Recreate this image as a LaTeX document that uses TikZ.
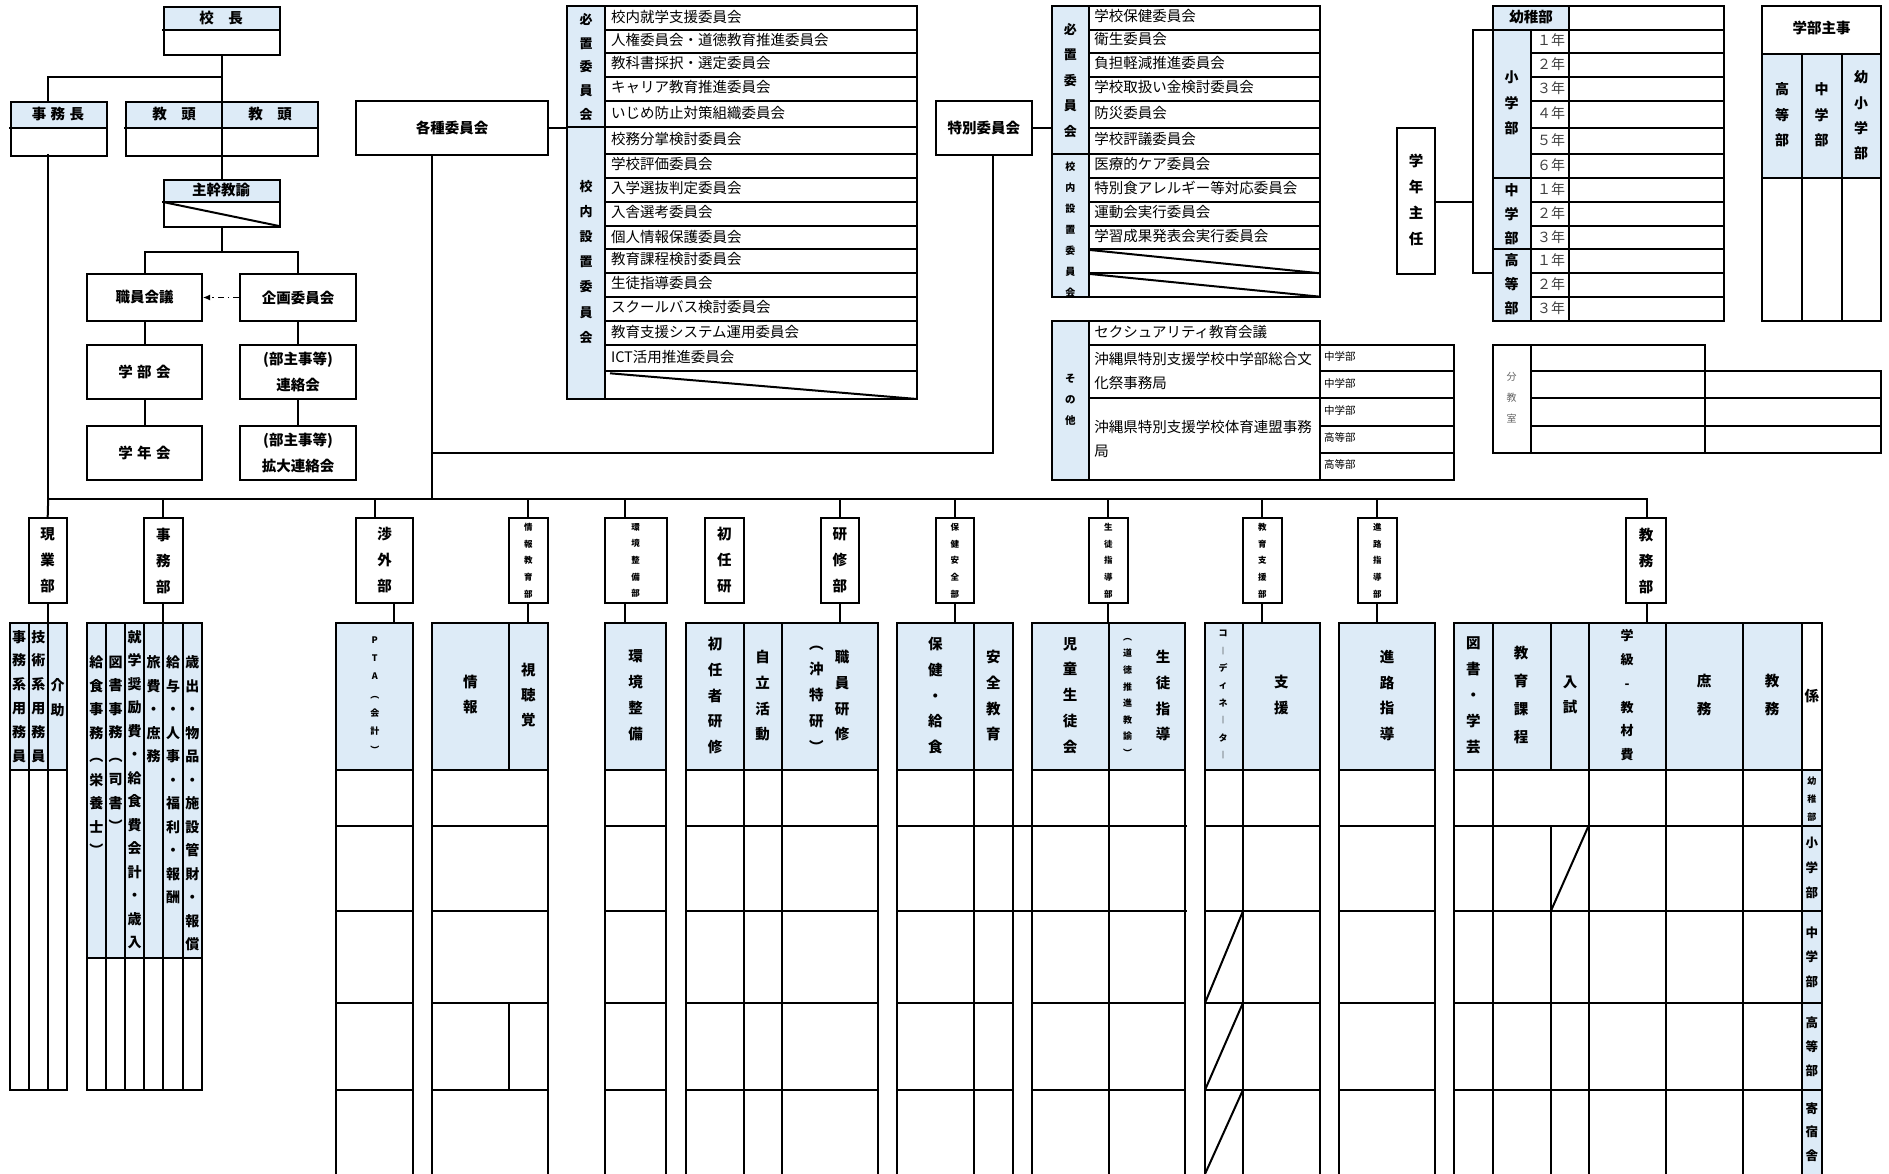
\documentclass[tikz,border=0pt]{standalone}
\usepackage{fontspec}
\setmainfont{Noto Sans CJK JP}
\usetikzlibrary{arrows.meta}
\definecolor{hb}{RGB}{221,235,247}
\newcommand\VP{\vphantom{国}}
\newcommand\obox[6][]{\node[draw, anchor=north west, minimum width={(#4-#2)*1pt}, minimum height={(#5-#3)*1pt}, #1] (#6) at (#2,#3) {};}
\newcommand\trows[2]{\foreach \yy in {623.4,769.6,825.5,911.4,1003,1090} \draw (#1,\yy)--(#2,\yy);}
\begin{document}
\begin{tikzpicture}[x=1pt,y=-1pt,line width=2pt,line cap=rect,
  every node/.style={inner sep=0pt},
  vt/.style n args={2}{font=\bfseries\fontsize{#1}{#2}\selectfont, align=center, anchor=north},
  vtr/.style n args={2}{font=\fontsize{#1}{#2}\selectfont, align=center, anchor=north},
  bt/.style={font=\bfseries\fontsize{14.5}{17}\selectfont},
  ob/.style={draw, font=\bfseries\fontsize{14.5}{25.5}\selectfont, align=center},
  ct/.style={font=\fontsize{14.5}{17}\selectfont, anchor=west},
  st/.style={font=\fontsize{10.5}{12}\selectfont, anchor=west},
  yr/.style={font=\fontsize{14}{17}\selectfont, text=black!75},
  dbox/.style={draw, minimum width=#1pt, minimum height=85.3pt, align=center},
  dbig/.style={font=\bfseries\fontsize{14.5}{26}\selectfont},
  dsmall/.style={font=\bfseries\fontsize{8.5}{16.7}\selectfont},
  dda/.style={line width=1.1pt, line cap=butt, dash pattern=on 6pt off 4pt on 1.5pt off 4pt, -{Latex[length=7pt,width=6pt]}},
  dg/.style={line cap=butt}]
\useasboundingbox (0,0) rectangle (1889,1174);

% ===== top-left organisation =====
\fill[hb] (163,6) rectangle (279,30);
\obox{163}{6}{279}{54}{kocho}
\draw (163,30) -- (279,30);
\node[bt] (kochoT) at (221,18) {校　長};

\fill[hb] (9.6,101) rectangle (106,128);
\obox{9.6}{101}{106}{155}{jimucho}
\draw (9.6,128)--(106,128);
\node[bt] (jimuchoT) at (58,114) {事\hspace{4.5pt}務\hspace{4.5pt}長};

\fill[hb] (124.6,101) rectangle (316.8,128);
\obox{124.6}{101}{221}{155}{kyotoA}
\obox{221}{101}{316.8}{155}{kyotoB}
\draw (124.6,128)--(316.8,128);
\node[bt] (kyotoAT) at (174,114) {教　頭};
\node[bt] (kyotoBT) at (270,114) {教　頭};

\fill[hb] (163,179) rectangle (279,202);
\obox{163}{179}{279}{226}{shukan}
\draw (163,202)--(279,202);
\draw[dg] (163,202)--(279,226);
\node[bt] (shukanT) at (221,189.5) {主幹教諭};

\node[ob, minimum width=115pt, minimum height=47pt] (shokuin) at (144.5,297.5) {職員会議};
\node[ob, minimum width=116pt, minimum height=47pt] (kikaku) at (298,297.5) {企画委員会};
\node[ob, minimum width=115pt, minimum height=54pt] (gakubu) at (144.5,372) {学\hspace{4.5pt}部\hspace{4.5pt}会};
\node[ob, minimum width=116pt, minimum height=54pt] (renraku) at (298,372) {(部主事等)\\連絡会};
\node[ob, minimum width=115pt, minimum height=54pt] (gakunen) at (144.5,453) {学\hspace{4.5pt}年\hspace{4.5pt}会};
\node[ob, minimum width=116pt, minimum height=54pt] (kakudai) at (298,453) {(部主事等)\\拡大連絡会};

\coordinate (brA) at (221,77);
\coordinate (jimTop) at (48.2,101);
\draw (kocho.south) -- (shukan.north);
\draw (brA) -| (jimTop);
\draw (shukan.south) -- ++(0,24) coordinate (brB);
\draw (shokuin.north) |- (brB) -| (kikaku.north);
\draw[dda] (kikaku.west) -- (shokuin.east);
\draw (shokuin.south) -- (gakubu.north);
\draw (gakubu.south) -- (gakunen.north);
\draw (kikaku.south) -- (renraku.north);
\draw (renraku.south) -- (kakudai.north);

% trunk
\coordinate (jimBot) at (48.2,155);
\coordinate (trunkL) at (48.2,498.5);
\coordinate (trunkR) at (1646.7,498.5);
\coordinate (hl) at (0,498.5);
\coordinate (tl) at (0,623.4);
\draw (jimBot) -- (trunkL) -- (trunkR);

% committees
\node[ob, minimum width=192pt, minimum height=54pt] (kakushu) at (452,128) {各種委員会};
\coordinate (kakBot) at (432,155);
\draw (kakBot) -- (kakBot |- hl);
\coordinate (comA) at (567.3,128);
\draw (kakushu.east) -- (comA);

\node[ob, minimum width=96.3pt, minimum height=54pt] (tokubetsu) at (983.85,127.7) {特別委員会};
\coordinate (comB) at (1051.7,127.7);
\draw (tokubetsu.east) -- (comB);
\coordinate (tokBot) at (992.7,154.7);
\coordinate (tokJoin) at (992.7,452.7);
\draw (tokBot) -- (tokJoin) -- (kakBot |- tokJoin);

% 学年主任
\node[ob, minimum width=37.7pt, minimum height=146.3pt] (shunin) at (1416.15,200.85) {};
\node[vt={14.5}{25.7}] (shuninT) at (1416.15,153.5) {\VP 学\\年\\主\\任};
\coordinate (brC) at (1473.3,201.7);
\draw (shunin.east |- brC) -- (brC);
\draw (1492.7,29.7) -- (1473.3,29.7) -- (1473.3,273.3) -- (1492.7,273.3);

% ===== committee table 1 =====
\fill[hb] (567.3,5.7) rectangle (605,399);
\foreach \y/\txt [count=\i] in {17.3/校内就学支援委員会, 40/人権委員会・道徳教育推進委員会, 63.3/教科書採択・選定委員会, 87.3/キャリア教育推進委員会, 113.3/いじめ防止対策組織委員会, 139.3/校務分掌検討委員会, 164/学校評価委員会, 188.3/入学選抜判定委員会, 211.7/入舎選考委員会, 236.7/個人情報保護委員会, 259.3/教育課程検討委員会, 283.3/生徒指導委員会, 306.7/スクールバス検討委員会, 331.7/教育支援システム運用委員会, 356.7/ICT活用推進委員会}
  \node[ct] (ca\i) at (610,\y) {\txt};
\node[vt={13}{23.7}] (cla) at (586.2,12.3) {\VP 必\\置\\委\\員\\会};
\node[vt={13}{25.2}] (clb) at (586.2,179) {\VP 校\\内\\設\\置\\委\\員\\会};
\draw (567.3,5.7) rectangle (916.7,399);
\draw (605,5.7) -- (605,399);
\foreach \y in {29.7,53.3,76.7,100.7,154,178.3,201.7,225.7,249,273.3,296.7,320.7,345,371} \draw (605,\y) -- (916.7,\y);
\draw (567.3,126.7) -- (916.7,126.7);
\draw[dg] (610,373.3) -- (916.7,399);

% ===== committee table 2 =====
\fill[hb] (1051.7,5.7) rectangle (1089,296.7);
\foreach \y/\txt [count=\i] in {16/学校保健委員会, 39.3/衛生委員会, 63.3/負担軽減推進委員会, 87.3/学校取扱い金検討委員会, 113.3/防災委員会, 139.3/学校評議委員会, 164/医療的ケア委員会, 188.3/特別食アレルギー等対応委員会, 211.7/運動会実行委員会, 236/学習成果発表会実行委員会}
  \node[ct] (cb\i) at (1093.3,\y) {\txt};
\node[vt={13}{25.4}] (clc) at (1070.3,22.3) {\VP 必\\置\\委\\員\\会};
\begin{scope}
\clip (1051.7,154.3) rectangle (1089,296.7);
\node[vt={10}{21.1}] (cld) at (1070.3,160.5) {\VP 校\\内\\設\\置\\委\\員\\会};
\end{scope}
\draw (1051.7,5.7) rectangle (1320,296.7);
\draw (1089,5.7)--(1089,296.7);
\foreach \y in {29.7,53.3,76.7,100.7,127.7,178.3,201.7,225.7,249.3,273.3} \draw (1089,\y)--(1320,\y);
\draw (1051.7,154.3)--(1320,154.3);
\draw[dg] (1090,250)--(1320,273.3);
\draw[dg] (1090,274)--(1320,296.7);

% ===== その他 =====
\fill[hb] (1051.7,321) rectangle (1089,480);
\node[vt={10.5}{20.8}] (cle) at (1070.3,373) {\VP そ\\の\\他};
\node[ct] (cc1) at (1093.3,331.7) {セクシュアリティ教育会議};
\node[ct, align=left, font=\fontsize{14.5}{23.4}\selectfont] (cc2) at (1093.3,371) {沖縄県特別支援学校中学部総合文\\化祭事務局};
\node[ct, align=left, font=\fontsize{14.5}{24}\selectfont] (cc3) at (1093.3,438.7) {沖縄県特別支援学校体育連盟事務\\局};
\foreach \y/\txt [count=\i] in {356.7/中学部, 383.3/中学部, 410.7/中学部, 437.3/高等部, 464/高等部}
  \node[st] (cs\i) at (1323,\y) {\txt};
\draw (1051.7,321) -- (1320,321) -- (1320,345);
\draw (1051.7,321) -- (1051.7,480) -- (1454.3,480) -- (1454.3,345) -- (1089,345);
\draw (1089,321)--(1089,480);
\draw (1320,345)--(1320,480);
\draw (1089,398.3)--(1454.3,398.3);
\foreach \y in {371,425.7,452.7} \draw (1320,\y)--(1454.3,\y);

% ===== 学年 table =====
\fill[hb] (1492.7,5.7) rectangle (1569.3,29.7);
\fill[hb] (1492.7,29.7) rectangle (1530.7,321);
\draw (1492.7,5.7) rectangle (1724,321);
\draw (1530.7,29.7)--(1530.7,321) (1569.3,5.7)--(1569.3,321);
\foreach \y in {29.7,178.3,249.3} \draw (1492.7,\y)--(1724,\y);
\foreach \y in {53.3,76.7,100.7,127.7,154.3,201.7,225.7,273.3,296.7} \draw (1530.7,\y)--(1724,\y);
\node[bt] (yochi) at (1531,17) {幼稚部};
\foreach \y/\txt [count=\i] in {40.3/１年, 64.3/２年, 88.3/３年, 113.3/４年, 140.3/５年, 165.3/６年, 189.3/１年, 213.3/２年, 237/３年, 260.3/１年, 284.3/２年, 308.3/３年}
  \node[yr] (yr\i) at (1551,\y) {\txt};
\node[vt={14}{25.3}] (gsho) at (1511.7,70.2) {\VP 小\\学\\部};
\node[vt={14}{23.8}] (gchu) at (1511.7,182.7) {\VP 中\\学\\部};
\node[vt={14}{24}] (gko) at (1511.7,253) {\VP 高\\等\\部};

% ===== 学部主事 =====
\fill[hb] (1762.3,54) rectangle (1880.7,178.3);
\draw (1762.3,5.7) rectangle (1880.7,321);
\draw (1762.3,54)--(1880.7,54) (1762.3,178.3)--(1880.7,178.3);
\draw (1801.7,54)--(1801.7,321) (1841.7,54)--(1841.7,321);
\node[bt] (shuji) at (1821.5,28.3) {学部主事};
\node[vt={14}{25.5}] (sj1) at (1782,82) {\VP 高\\等\\部};
\node[vt={14}{25.5}] (sj2) at (1821.7,82) {\VP 中\\学\\部};
\node[vt={14}{25.4}] (sj3) at (1861.2,69.7) {\VP 幼\\小\\学\\部};

% ===== 分教室 =====
\draw (1492.7,345) rectangle (1705,452.7);
\draw (1705,371) -- (1880.7,371) -- (1880.7,452.7) -- (1705,452.7);
\draw (1530.7,345)--(1530.7,452.7);
\foreach \y in {371,398.3,425.7} \draw (1530.7,\y)--(1880.7,\y);
\node[vtr={10}{20.7}, text=black!62] (bunkyo) at (1511.7,371.5) {\VP 分\\教\\室};

% ===== department boxes =====
\node[dbox=38.2, dbig] (genkyo) at (47.7,560.5) {現\\業\\部};
\node[dbox=39.4, dbig] (jimubu) at (163.3,560.5) {事\\務\\部};
\node[dbox=57, dbig] (shogai) at (384.5,560.5) {渉\\外\\部};
\node[dbox=39.4, dsmall] (joho) at (528.3,560.5) {情\\報\\教\\育\\部};
\node[dbox=62.2, dsmall] (kankyo) at (635.7,560.5) {環\\境\\整\\備\\部};
\node[dbox=39.7, dbig] (shonin) at (724.45,560.5) {初\\任\\研};
\node[dbox=38.3, dbig] (kenshu) at (839.85,560.5) {研\\修\\部};
\node[dbox=38.3, dsmall] (hoken) at (954.85,560.5) {保\\健\\安\\全\\部};
\node[dbox=39.3, dsmall] (seito) at (1108.25,560.5) {生\\徒\\指\\導\\部};
\node[dbox=39.1, dsmall] (shien) at (1262.45,560.5) {教\\育\\支\\援\\部};
\node[dbox=38.9, dsmall] (shinro) at (1377.35,560.5) {進\\路\\指\\導\\部};
\node[dbox=40, dbig] (kyomu) at (1646,560.5) {教\\務\\部};

\draw (trunkL) -- (genkyo.north);
\draw (jimubu.north |- hl) -- (jimubu.north);
\draw (375,498.5) -- (375,517.8);
\draw (joho.north |- hl) -- (joho.north);
\draw (625,498.5) -- (625,517.8);
\draw (kenshu.north |- hl) -- (kenshu.north);
\draw (hoken.north |- hl) -- (hoken.north);
\draw (seito.north |- hl) -- (seito.north);
\draw (shien.north |- hl) -- (shien.north);
\draw (shinro.north |- hl) -- (shinro.north);
\draw (trunkR) -- (kyomu.north -| trunkR);

\draw (genkyo.south) -- (genkyo.south |- tl);
\draw (jimubu.south) -- (jimubu.south |- tl);
\draw (394,603.2) -- (394,623.4);
\draw (joho.south) -- (joho.south |- tl);
\draw (625,603.2) -- (625,623.4);
\draw (kenshu.south) -- (kenshu.south |- tl);
\draw (hoken.south) -- (hoken.south |- tl);
\draw (seito.south) -- (seito.south |- tl);
\draw (shien.south) -- (shien.south |- tl);
\draw (shinro.south) -- (shinro.south |- tl);
\draw (kyomu.south -| trunkR) -- (trunkR |- tl);

% ===== T1 現業部 =====
\fill[hb] (9.6,623.4) rectangle (66.8,769.6);
\draw (9.6,623.4) rectangle (66.8,1090);
\draw (28.6,623.4)--(28.6,1090) (48.2,623.4)--(48.2,1090) (9.6,769.6)--(66.8,769.6);
\node[vt={14}{23.8}] (t1a) at (19.1,629.1) {\VP 事\\務\\系\\用\\務\\員};
\node[vt={14}{23.8}] (t1b) at (38.4,629.1) {\VP 技\\術\\系\\用\\務\\員};
\node[vt={14}{24.9}] (t1c) at (57.5,677.3) {\VP 介\\助};

% ===== T2 事務部 =====
\fill[hb] (86.8,623.4) rectangle (201.8,958);
\draw (86.8,623.4) rectangle (201.8,1090);
\foreach \x in {106,125,144,163,182.9} \draw (\x,623.4)--(\x,1090);
\draw (86.8,958)--(201.8,958);
\node[vt={14}{23.5}] (t2a) at (96.4,654.9) {\VP 給\\食\\事\\務\\︵\\栄\\養\\士\\︶};
\node[vt={14}{23.5}] (t2b) at (115.5,654.9) {\VP 図\\書\\事\\務\\︵\\司\\書\\︶};
\node[vt={14}{23.5}] (t2c) at (134.5,629.1) {\VP 就\\学\\奨\\励\\費\\・\\給\\食\\費\\会\\計\\・\\歳\\入};
\node[vt={14}{23.5}] (t2d) at (153.5,654.9) {\VP 旅\\費\\・\\庶\\務};
\node[vt={14}{23.5}] (t2e) at (173,654.9) {\VP 給\\与\\・\\人\\事\\・\\福\\利\\・\\報\\酬};
\node[vt={14}{23.5}] (t2f) at (192.4,654.9) {\VP 歳\\出\\・\\物\\品\\・\\施\\設\\管\\財\\・\\報\\償};

% ===== T3 PTA =====
\fill[hb] (336.4,623.4) rectangle (413.2,769.6);
\draw (336.4,623.4)--(336.4,1174) (413.2,623.4)--(413.2,1174);
\trows{336.4}{413.2}
\node[vt={9}{18.3}] (t3a) at (374.8,635) {\VP P\\T\\A\\︵\\会\\計\\︶};

% ===== T4 情報 =====
\fill[hb] (432,623.4) rectangle (548,769.6);
\draw (432,623.4)--(432,1174) (548,623.4)--(548,1174) (508.6,623.4)--(508.6,769.6) (508.6,1003)--(508.6,1090);
\trows{432}{548}
\node[vt={14.5}{25}] (t4a) at (470.3,674.5) {\VP 情\\報};
\node[vt={14.5}{25.3}] (t4b) at (528.3,662) {\VP 視\\聴\\覚};

% ===== T5 環境整備 =====
\fill[hb] (605,623.4) rectangle (666.4,769.6);
\draw (605,623.4)--(605,1174) (666.4,623.4)--(666.4,1174);
\trows{605}{666.4}
\node[vt={14.5}{25.8}] (t5a) at (635.7,649) {\VP 環\\境\\整\\備};

% ===== T6 研修 =====
\fill[hb] (686.4,623.4) rectangle (877.9,769.6);
\foreach \x in {686.4,743.6,781.8,877.9} \draw (\x,623.4)--(\x,1174);
\trows{686.4}{877.9}
\node[vt={14.5}{25.8}] (t6a) at (715,636.2) {\VP 初\\任\\者\\研\\修};
\node[vt={14.5}{25.8}] (t6b) at (762.7,649) {\VP 自\\立\\活\\動};
\node[vt={14.5}{25.8}] (t6c) at (816.4,636.2) {\VP ︵\\沖\\特\\研\\︶};
\node[vt={14.5}{25.8}] (t6d) at (842,649) {\VP 職\\員\\研\\修};

% ===== T7 保健安全 =====
\fill[hb] (896.8,623.4) rectangle (1012.9,769.6);
\foreach \x in {896.8,973.9,1012.9} \draw (\x,623.4)--(\x,1174);
\trows{896.8}{1012.9}
\draw (1012.9,825.5)--(1186.4,825.5) (1012.9,911.4)--(1186.4,911.4);
\node[vt={14.5}{25.8}] (t7a) at (935.4,636.2) {\VP 保\\健\\・\\給\\食};
\node[vt={14.5}{25.8}] (t7b) at (993.4,649) {\VP 安\\全\\教\\育};

% ===== T8 生徒指導 =====
\fill[hb] (1031.8,623.4) rectangle (1184.6,769.6);
\foreach \x in {1031.8,1108.6,1184.6} \draw (\x,623.4)--(\x,1174);
\trows{1031.8}{1184.6}
\node[vt={14.5}{25.8}] (t8a) at (1070.2,636.2) {\VP 児\\童\\生\\徒\\会};
\node[vt={9}{16.6}] (t8b) at (1127.5,632) {\VP ︵\\道\\徳\\推\\進\\教\\諭\\︶};
\node[vt={14.5}{25.8}] (t8c) at (1163,649) {\VP 生\\徒\\指\\導};

% ===== T9 教育支援 =====
\fill[hb] (1205,623.4) rectangle (1319.6,769.6);
\foreach \x in {1205,1242.9,1319.6} \draw (\x,623.4)--(\x,1174);
\trows{1205}{1319.6}
\draw[dg] (1205,1003)--(1242.9,911.4) (1205,1090)--(1242.9,1003) (1205,1174)--(1242.9,1090);
\node[vt={9}{17.4}] (t9a) at (1223,628.4) {\VP コ\\︱\\デ\\ィ\\ネ\\︱\\タ\\︱};
\node[vt={14.5}{26}] (t9b) at (1281.3,674.5) {\VP 支\\援};

% ===== T10 進路指導 =====
\fill[hb] (1339,623.4) rectangle (1434.6,769.6);
\draw (1339,623.4)--(1339,1174) (1434.6,623.4)--(1434.6,1174);
\trows{1339}{1434.6}
\node[vt={14.5}{25.8}] (t10a) at (1387,649) {\VP 進\\路\\指\\導};

% ===== T11 教務 =====
\fill[hb] (1454,623.4) rectangle (1801.7,769.6);
\fill[hb] (1801.7,769.6) rectangle (1822,1174);
\foreach \x in {1454,1492.7,1588.7,1665.7,1743,1801.7,1822} \draw (\x,623.4)--(\x,1174);
\draw (1550.7,623.4)--(1550.7,769.6) (1550.7,825.5)--(1550.7,1174);
\trows{1454}{1822}
\draw[dg] (1550.7,911.4)--(1588.7,825.5);
\node[vt={14.5}{26}] (t11a) at (1473.3,635.5) {\VP 図\\書\\・\\学\\芸};
\node[vt={14.5}{28.1}] (t11b) at (1521,644.8) {\VP 教\\育\\課\\程};
\node[vt={14.5}{25}] (t11c) at (1570,675) {\VP 入\\試};
\node[vt={13}{23.8}] (t11d) at (1627,628.5) {\VP 学\\級\\-\\教\\材\\費};
\node[vt={14.5}{28}] (t11e) at (1704,673.5) {\VP 庶\\務};
\node[vt={14.5}{28}] (t11f) at (1772,673.5) {\VP 教\\務};
\node[bt] (t11g) at (1811.8,695.6) {係};
\node[vt={9}{18.3}] (r1) at (1811.8,775.5) {\VP 幼\\稚\\部};
\node[vt={12.5}{24.7}] (r2) at (1811.8,836.3) {\VP 小\\学\\部};
\node[vt={12.5}{24.5}] (r3) at (1811.8,925.7) {\VP 中\\学\\部};
\node[vt={12.5}{24}] (r4) at (1811.8,1016) {\VP 高\\等\\部};
\node[vt={12.5}{23.7}] (r5) at (1811.8,1101.5) {\VP 寄\\宿\\舎};
\end{tikzpicture}
\end{document}
